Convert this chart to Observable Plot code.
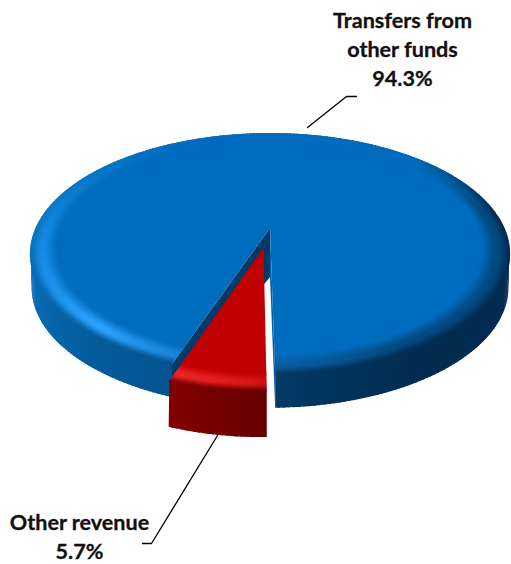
<!DOCTYPE html>
<html>
<head>
<meta charset="utf-8">
<script src="https://cdn.jsdelivr.net/npm/d3@7"></script>
<script src="https://cdn.jsdelivr.net/npm/@observablehq/plot@0.6"></script>
<style>html,body{margin:0;padding:0;background:#fff}svg{display:block}</style>
</head>
<body>
<script>
// Data
const categories = ["Other revenue", "Transfers from\nother funds"];
const shares = [5.7, 94.3];
const shareLabels = ["5.7%", "94.3%"];

// Layout of the tilted disc (perspective view)
const W = 511, H = 564;
const cx = 270, cy = 228, A = 234.5, B = 115.4, K = 0.215;
const centreDepth = 49, bevelStart = 0.88, explode = 0.166, startAngle = -1;
const sliceRadius = [0.925, 1], sliceDepth = [45, 34], wallFoot = [1, 0.993];
const labelAnchors = [[79, 535], [402, 47]];
const leaders = [
  [[217, 435], [151, 543], [142, 543]],
  [[307, 127], [346, 96], [356, 96]]
];

const project = (X, Y, drop = 0) => {
  const w = 1 - K * Y;
  return [cx + A * X / w, cy + B * Y / w + drop];
};
const rad = d => d * Math.PI / 180;
const disc = (theta, r, off) => [off[0] - r * Math.sin(rad(theta)), off[1] + r * Math.cos(rad(theta))];
const norm = t => ((t + 180) % 360 + 360) % 360 - 180;

const ramp = (stops) => d3.scaleLinear().domain(stops.map(s => s[0])).range(stops.map(s => s[1])).interpolate(d3.interpolateRgb).clamp(true);

const styles = [
  { // red
    base: "#c00000",
    wall: ramp([[-20, "#640000"], [0, "#660000"], [12, "#780000"], [25, "#8a0000"]]),
    peak: ramp([[-20, "#c80c0c"], [0, "#d01414"], [12, "#e82222"], [25, "#f02a2a"]])
  },
  { // blue
    base: "#006cbd",
    wall: ramp([[-180, "#006cbd"], [-135, "#006cbd"], [-100, "#012c50"], [-30, "#012c50"], [0, "#023a66"], [20, "#045590"], [40, "#055c9c"], [60, "#0668ae"], [90, "#0b75c0"], [110, "#0c78c4"], [180, "#006cbd"]]),
    peak: ramp([[-180, "#006cbd"], [-135, "#006cbd"], [-100, "#03497f"], [-30, "#03497f"], [0, "#0a5fa0"], [20, "#1a85d8"], [40, "#2ea3ff"], [60, "#1f92ee"], [90, "#1286e0"], [110, "#0c7cd0"], [150, "#006cbd"], [180, "#006cbd"]])
  }
];

const total = d3.sum(shares);
let angle = startAngle;
const slices = shares.map((v, i) => {
  const a0 = angle, a1 = angle + v / total * 360;
  angle = a1;
  const mid = (a0 + a1) / 2;
  const offset = i === 0 ? [-explode * Math.sin(rad(mid)), explode * Math.cos(rad(mid))] : [0, 0];
  return { a0, a1, offset, style: styles[i], i };
});

// Build shaded strips from the slice angles; each strip overlaps the next so no seam shows
const strips = (slice) => {
  const { a0, a1, offset, style, i } = slice;
  const n = Math.max(14, Math.round((a1 - a0) / 1));
  const step = (a1 - a0) / n;
  const ang = k => a0 + step * k;
  const wall = [], bevel = [], top = [], faces = [];
  const rings = 14;
  const R = sliceRadius[i], D = sliceDepth[i], F = wallFoot[i];
  const pt = (t, r, d = 0) => project(...disc(t, r * R, offset), d);
  for (let k = 0; k < n; k++) {
    const t0 = ang(k), t1 = Math.min(a1, ang(k + 1.6)), tm = norm(ang(k + 0.5));
    // the wall starts a hair inside the rim, under the bevel
    const [a, b] = [pt(t0, 0.995), pt(t1, 0.995)];
    const [c, e] = [pt(t0, F, D), pt(t1, F, D)];
    const w = style.wall(tm);
    wall.push({ x1: a[0], y1: a[1], x2: c[0], y2: c[1], z: `w${i}${k}`, color: w },
              { x1: b[0], y1: b[1], x2: e[0], y2: e[1], z: `w${i}${k}`, color: w });
    for (let q = 0; q < rings; q++) {
      const s0 = q / rings, s1 = (q + 1) / rings, sm = (s0 + s1) / 2;
      const r0 = bevelStart + (1 - bevelStart) * s0;
      const r1 = bevelStart + (1 - bevelStart) * Math.min(1, s1 + 0.04);
      const pk = style.peak(tm);
      const col = sm < 0.58
        ? d3.interpolateRgb(style.base, pk)(d3.easeSinInOut(sm / 0.58))
        : d3.interpolateRgb(pk, w)(d3.easeSinInOut((sm - 0.58) / 0.42));
      const id = `b${i}${k}_${q}`;
      const p = pt(t0, r0), u = pt(t0, r1), v = pt(t1, r0), o = pt(t1, r1);
      bevel.push({ x1: p[0], y1: p[1], x2: u[0], y2: u[1], z: id, color: col, q },
                 { x1: v[0], y1: v[1], x2: o[0], y2: o[1], z: id, color: col, q });
    }
    const ap = project(offset[0], offset[1]);
    const q0 = pt(ang(k), bevelStart + 0.004), q1 = pt(ang(k + 1), bevelStart + 0.004);
    top.push({ x1: ap[0], y1: ap[1], x2: q0[0], y2: q0[1], z: `t${i}`, color: style.base });
    if (k === n - 1) top.push({ x1: ap[0], y1: ap[1], x2: q1[0], y2: q1[1], z: `t${i}`, color: style.base });
  }
  if (i === 1) {
    // cut faces of the large slice, seen through the gap
    const ap = project(0, 0);
    [[a0, "#003a68"], [a1, "#05609f"]].forEach(([t, color], j) => {
      const r = pt(t, 1), rb = pt(t, F, D);
      faces.push({ x1: ap[0], y1: ap[1], x2: ap[0], y2: ap[1] + centreDepth, z: `f${j}`, color },
                 { x1: r[0], y1: r[1], x2: rb[0], y2: rb[1], z: `f${j}`, color });
    });
  }
  return { wall, bevel, top, faces };
};

const [red, blue] = slices.map(strips);
const opt = { x1: "x1", y1: "y1", x2: "x2", y2: "y2", z: "z", fill: d => d.color };

const labelRows = categories.map((c, i) => ({ text: `${c}\n${shareLabels[i]}`, x: labelAnchors[i][0], y: labelAnchors[i][1] }));
const leaderRows = leaders.flatMap((l, i) => l.map(p => ({ x: p[0], y: p[1], z: i })));

const chart = Plot.plot({
  width: W, height: H, margin: 0,
  x: { domain: [0, W], range: [0, W], axis: null },
  y: { domain: [0, H], range: [0, H], axis: null },
  color: { type: "identity" },
  marks: [
    Plot.area(blue.wall, opt),
    Plot.area(blue.faces, opt),
    Plot.area(blue.bevel, opt),
    Plot.area(blue.top, opt),
    Plot.area(red.wall, opt),
    Plot.area(red.bevel, opt),
    Plot.area(red.top, opt),
    Plot.line(leaderRows, { x: "x", y: "y", z: "z", stroke: "#000", strokeWidth: 1.3 }),
    Plot.text(labelRows, {
      x: "x", y: "y", text: "text", fontSize: 21.6, fontWeight: 700,
      fontFamily: "Lato, 'Open Sans', sans-serif", fill: "#111", stroke: "#111", strokeWidth: 0.3,
      lineHeight: 1.34, textAnchor: "middle"
    })
  ]
});
document.body.appendChild(chart);
</script>
</body>
</html>
